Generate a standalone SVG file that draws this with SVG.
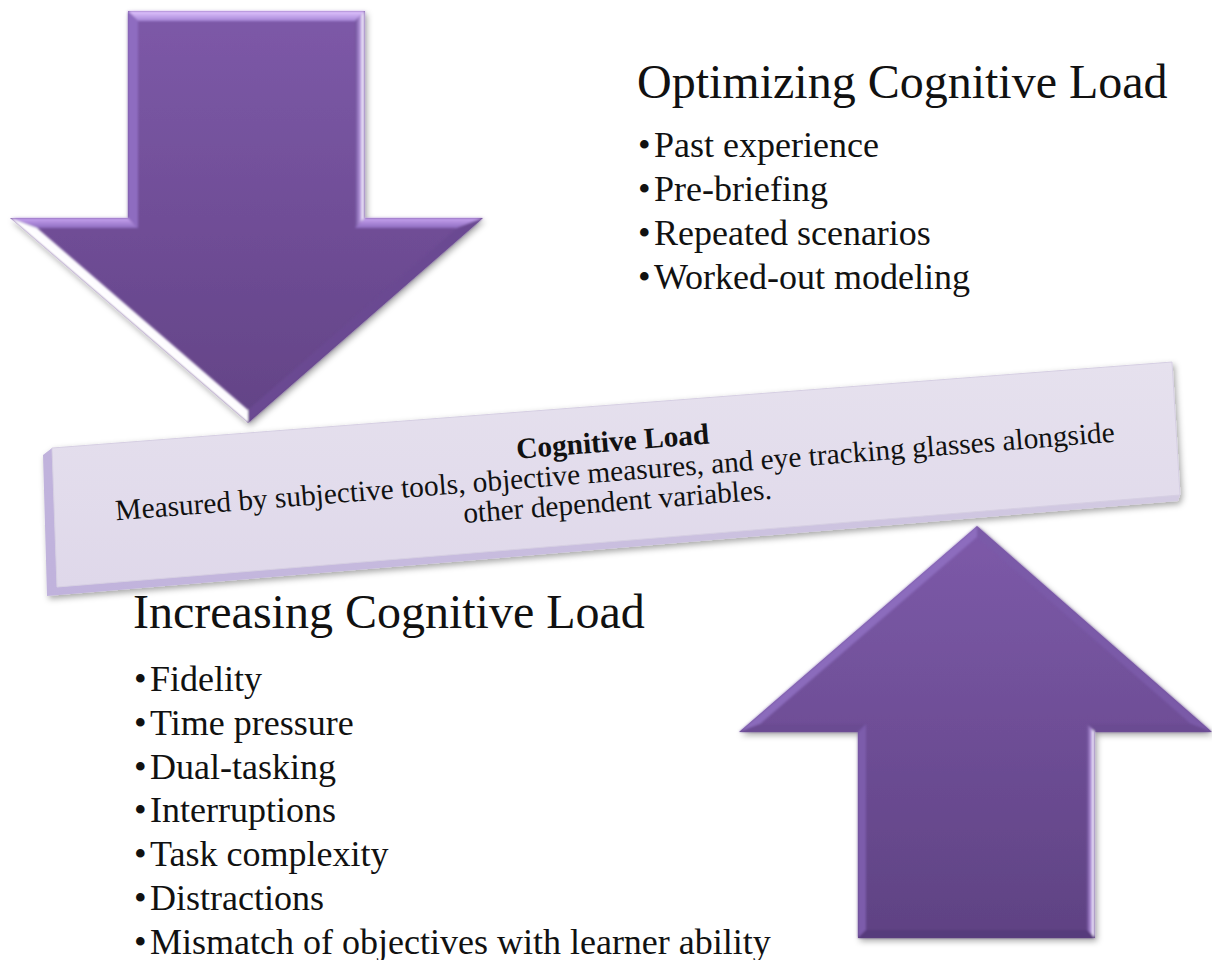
<svg xmlns="http://www.w3.org/2000/svg" width="1212" height="960" viewBox="0 0 1212 960">
  <defs>
    <style>
      .serif { font-family: "Liberation Serif", "Times New Roman", serif; fill: #111; }
      .heading { font-size: 48px; }
      .item { font-size: 36px; }
      .bar-title { font-size: 29.4px; font-weight: bold; }
      .bar-text { font-size: 29.4px; }
    </style>
    <filter id="softShadow" x="-10%" y="-10%" width="120%" height="125%">
      <feDropShadow dx="2" dy="3" stdDeviation="3" flood-color="#000" flood-opacity="0.35"/>
    </filter>
    <filter id="bevelBlur" x="-5%" y="-5%" width="110%" height="110%">
      <feGaussianBlur stdDeviation="1.2"/>
    </filter>
    <linearGradient id="faceDown" x1="0" y1="0" x2="0" y2="1">
      <stop offset="0" stop-color="#7d59a8"/>
      <stop offset="1" stop-color="#634386"/>
    </linearGradient>
    <linearGradient id="faceUp" x1="0" y1="0" x2="0" y2="1">
      <stop offset="0" stop-color="#7d5aa9"/>
      <stop offset="1" stop-color="#5f4283"/>
    </linearGradient>
    <linearGradient id="topBevel" x1="0" y1="0" x2="0" y2="1">
      <stop offset="0" stop-color="#e2c6ff"/>
      <stop offset="1" stop-color="#a585d6"/>
    </linearGradient>
    <linearGradient id="wingBevel" x1="0" y1="0" x2="0" y2="1">
      <stop offset="0" stop-color="#c8a4f0"/>
      <stop offset="1" stop-color="#8e6cc0"/>
    </linearGradient>
    <linearGradient id="diagLight" x1="0" y1="0" x2="1" y2="-1">
      <stop offset="0" stop-color="#ffffff"/>
      <stop offset="0.6" stop-color="#c9acec"/>
      <stop offset="1" stop-color="#7d5aa8"/>
    </linearGradient>
    <linearGradient id="shaftRight" x1="0" y1="0" x2="1" y2="0">
      <stop offset="0" stop-color="#6c4d96"/>
      <stop offset="0.55" stop-color="#b89ae0"/>
      <stop offset="0.8" stop-color="#ffffff"/>
      <stop offset="1" stop-color="#9c7ccc"/>
    </linearGradient>
    <linearGradient id="barFace" x1="0" y1="0" x2="0" y2="1">
      <stop offset="0" stop-color="#e6e1ee"/>
      <stop offset="1" stop-color="#dfd8ea"/>
    </linearGradient>
    <linearGradient id="barSide" x1="0" y1="0" x2="1" y2="0">
      <stop offset="0" stop-color="#c0b2dc"/>
      <stop offset="1" stop-color="#d3cbe2"/>
    </linearGradient>
  </defs>

  <rect width="1212" height="960" fill="#ffffff"/>

  <!-- Downward arrow, upper left -->
  <g id="arrow-down">
    <polygon filter="url(#softShadow)" fill="url(#faceDown)"
             points="128,11 365,11 365,218 483,218 248,423 10,218 128,218"/>
    <g filter="url(#bevelBlur)">
      <polygon fill="url(#topBevel)" points="128,11 365,11 355,21 138,21"/>
      <polygon fill="#8e6cc0" points="128,11 138,21 138,228 128,218"/>
      <polygon fill="url(#shaftRight)" points="355,21 365,11 365,218 355,228"/>
      <polygon fill="url(#wingBevel)" points="10,218 128,218 138,228 37,228"/>
      <polygon fill="url(#wingBevel)" points="365,218 483,218 457,228 355,228"/>
      <polygon fill="url(#diagLight)" points="10,218 37,228 248,410 248,423"/>
      <polygon fill="#6a4a92" points="483,218 248,423 248,410 457,228"/>
    </g>
  </g>

  <!-- Upward arrow, lower right -->
  <g id="arrow-up">
    <polygon filter="url(#softShadow)" fill="url(#faceUp)"
             points="977,526 1212,732 1095,732 1095,938 858,938 858,732 739,732"/>
    <g filter="url(#bevelBlur)">
      <polygon fill="#8f70c2" opacity="0.85" points="739,732 977,526 977,537 760,724"/>
      <polygon fill="#7a5aa8" points="977,526 1212,732 1191,724 977,537"/>
      <polygon fill="#6a4b92" points="739,732 858,732 866,724 760,724"/>
      <polygon fill="#6a4b92" points="1095,732 1212,732 1191,724 1087,724"/>
      <polygon fill="#7b5cab" points="858,732 866,724 866,930 858,938"/>
      <polygon fill="url(#shaftRight)" points="1087,724 1095,732 1095,938 1087,930"/>
      <polygon fill="#563b7c" points="858,938 1095,938 1087,930 866,930"/>
    </g>
  </g>

  <!-- Tilted bar in the middle -->
  <g id="cognitive-load-bar">
    <g filter="url(#softShadow)">
      <polygon fill="url(#barSide)" points="52,448 43,455 47,596 1178,501 1180,495 57,587"/>
      <polygon fill="url(#barFace)" stroke="#d6cfe3" stroke-width="1"
               points="52,448 1172,362 1180,495 57,587"/>
    </g>
    <g transform="rotate(-4.5 615 472)">
      <text class="serif bar-title" x="615" y="451" text-anchor="middle">Cognitive Load</text>
      <text class="serif bar-text" x="615" y="481" text-anchor="middle">Measured by subjective tools, objective measures, and eye tracking glasses alongside</text>
      <text class="serif bar-text" x="615" y="511" text-anchor="middle">other dependent variables.</text>
    </g>
  </g>

  <!-- Factors that lower the load -->
  <g id="optimizing-list">
    <text class="serif heading" x="637" y="98">Optimizing Cognitive Load</text>
    <text class="serif item" x="638" y="157">•<tspan x="654">Past experience</tspan></text>
    <text class="serif item" x="638" y="201">•<tspan x="654">Pre-briefing</tspan></text>
    <text class="serif item" x="638" y="245">•<tspan x="654">Repeated scenarios</tspan></text>
    <text class="serif item" x="638" y="289">•<tspan x="654">Worked-out modeling</tspan></text>
  </g>

  <!-- Factors that raise the load -->
  <g id="increasing-list">
    <text class="serif heading" x="133" y="628">Increasing Cognitive Load</text>
    <text class="serif item" x="134" y="691">•<tspan x="150">Fidelity</tspan></text>
    <text class="serif item" x="134" y="735">•<tspan x="150">Time pressure</tspan></text>
    <text class="serif item" x="134" y="779">•<tspan x="150">Dual-tasking</tspan></text>
    <text class="serif item" x="134" y="822">•<tspan x="150">Interruptions</tspan></text>
    <text class="serif item" x="134" y="866">•<tspan x="150">Task complexity</tspan></text>
    <text class="serif item" x="134" y="910">•<tspan x="150">Distractions</tspan></text>
    <text class="serif item" x="134" y="954">•<tspan x="150">Mismatch of objectives with learner ability</tspan></text>
  </g>
</svg>
